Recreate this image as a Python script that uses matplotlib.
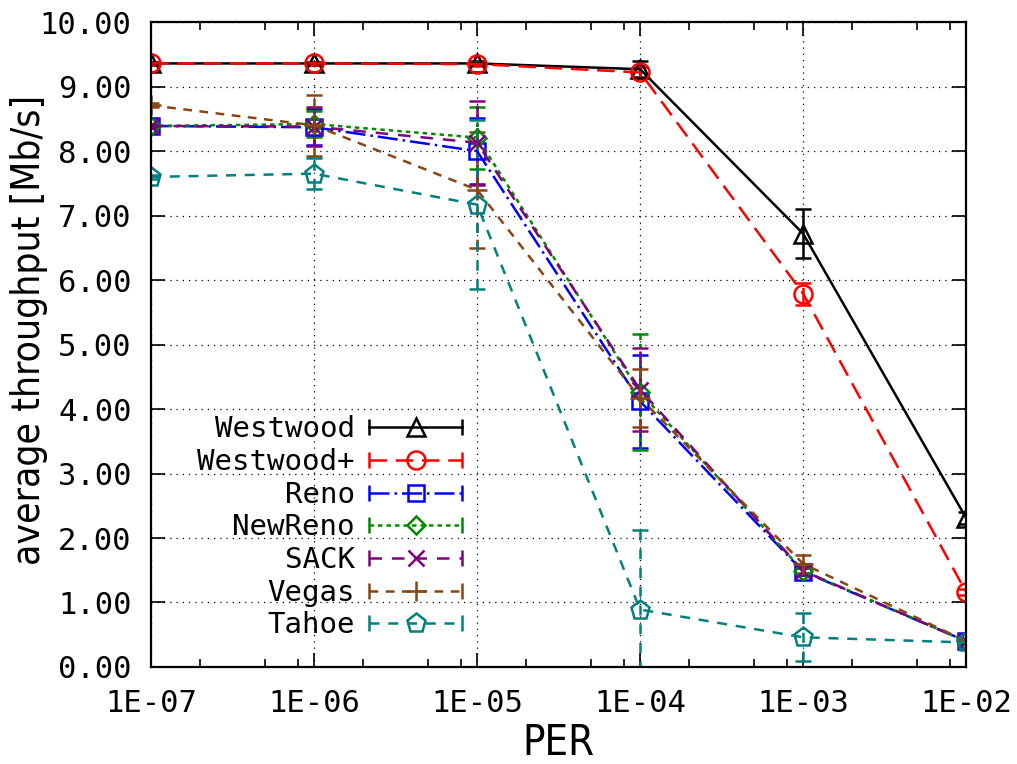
import numpy as np
import matplotlib
matplotlib.use('Agg')
import matplotlib.pyplot as plt
import matplotlib.font_manager as fm
from matplotlib.lines import Line2D
from matplotlib.legend_handler import HandlerLine2D, HandlerTuple

# PER values and tick labels
per = [1e-7, 1e-6, 1e-5, 1e-4, 1e-3, 1e-2]
per_labels = ['1E-07', '1E-06', '1E-05', '1E-04', '1E-03', '1E-02']

# average throughput [Mb/s] and error (half-width) per protocol
westwood = [9.36, 9.36, 9.36, 9.27, 6.72, 2.31]
westwood_err = [0.02, 0.02, 0.03, 0.12, 0.38, 0.10]
westwoodp = [9.36, 9.36, 9.35, 9.22, 5.79, 1.16]
westwoodp_err = [0.02, 0.02, 0.03, 0.08, 0.17, 0.05]
reno = [8.39, 8.37, 8.00, 4.12, 1.48, 0.40]
reno_err = [0.03, 0.28, 0.51, 0.72, 0.06, 0.03]
newreno = [8.39, 8.42, 8.21, 4.26, 1.49, 0.40]
newreno_err = [0.03, 0.20, 0.48, 0.90, 0.06, 0.03]
sack = [8.39, 8.38, 8.13, 4.30, 1.49, 0.40]
sack_err = [0.03, 0.30, 0.65, 0.64, 0.06, 0.03]
vegas = [8.71, 8.40, 7.40, 4.17, 1.60, 0.40]
vegas_err = [0.03, 0.47, 0.90, 0.45, 0.14, 0.03]
tahoe = [7.60, 7.65, 7.17, 0.89, 0.46, 0.38]
tahoe_err = [0.03, 0.24, 1.31, 1.24, 0.37, 0.03]

series = [
    ('Westwood', westwood, westwood_err, 'black', '-', '^', 13),
    ('Westwood+', westwoodp, westwoodp_err, '#ff0000', (0, (7, 3.5)), 'o', 13),
    ('Reno', reno, reno_err, '#0000ff', (0, (8, 2, 1, 2)), 's', 12),
    ('NewReno', newreno, newreno_err, '#008a00', (0, (1.8, 1.6)), 'D', 9),
    ('SACK', sack, sack_err, '#800080', (0, (5, 4)), 'x', 12),
    ('Vegas', vegas, vegas_err, '#8b4513', (0, (3.5, 3)), '+', 14),
    ('Tahoe', tahoe, tahoe_err, '#008080', (0, (4, 3.5)), 'p', 14),
]

mono = 'DejaVu Sans Mono'

# look for a narrow sans font for the axis titles
narrow_fp = None
wanted = ['LiberationSansNarrow-Regular', 'DejaVuSansCondensed.ttf',
          'RobotoCondensed-Regular', 'OpenSans_Condensed-Regular',
          'OpenSansCondensed-Light', 'NotoSans-Condensed']
files = [f.fname for f in fm.fontManager.ttflist]
for w in wanted:
    hits = [p for p in files if w in p]
    if hits:
        narrow_fp = fm.FontProperties(fname=hits[0])
        break
if narrow_fp is None:
    narrow_fp = fm.FontProperties(family='Liberation Sans')
    lab_size = 26
else:
    lab_size = 30

fig = plt.figure(figsize=(10.17, 7.64), dpi=100)
ax = fig.add_axes([0.1485, 0.127, 0.8015, 0.844])

handles = []
hmap = {tuple: HandlerTuple(ndivide=1, pad=0)}
for name, vals, err, col, ls, mk, ms in series:
    eb = ax.errorbar(per, vals, yerr=err, color=col, ls=ls, lw=1.8,
                     marker=mk, ms=ms, mfc='none', mec=col, mew=1.8,
                     capsize=5.5, capthick=1.8, elinewidth=1.8)
    for bc in eb[2]:
        bc.set_linestyle(ls)
    ln = Line2D([], [], color=col, ls=ls, lw=1.8, marker=mk, ms=ms,
                mfc='none', mec=col, mew=1.8)
    caps = Line2D([], [], color=col, ls='none', marker='|', ms=11, mew=1.8)
    hmap[caps] = HandlerLine2D(numpoints=2, marker_pad=0)
    handles.append((ln, caps))

ax.set_xscale('log')
ax.set_xlim(1e-7, 1e-2)
ax.set_ylim(0, 10)
ax.set_xticks(per)
ax.set_xticklabels(per_labels, fontfamily=mono, fontsize=22)
ax.set_xticks([m * 10.0 ** e for e in range(-7, -2) for m in (2, 5, 8)], minor=True)
ax.set_xticklabels([], minor=True)
ax.set_yticks(np.arange(0, 11, 1))
ax.set_yticklabels(['%.2f' % v for v in np.arange(0, 11, 1)], fontfamily=mono, fontsize=22)

ax.tick_params(which='both', direction='in', top=True, right=True, width=1.2)
ax.tick_params(which='major', length=10)
ax.tick_params(which='minor', length=6)
ax.tick_params(axis='x', pad=16)
ax.tick_params(axis='y', pad=14)
for s in ax.spines.values():
    s.set_linewidth(1.6)

ax.grid(True, which='major', color='black', ls=(0, (1, 4)), lw=0.9)

ax.set_xlabel('PER', fontproperties=narrow_fp, fontsize=lab_size, labelpad=3)
ax.set_ylabel('average throughput [Mb/s]', fontproperties=narrow_fp, fontsize=lab_size - 2)
ax.yaxis.set_label_coords(-0.127, 0.522)

leg = ax.legend(handles, [s[0] for s in series], handler_map=hmap,
                loc='lower right', bbox_to_anchor=(0.40, 0.02),
                frameon=False, markerfirst=False, handlelength=3.2,
                handletextpad=0.5, labelspacing=0.16, borderpad=0,
                prop={'family': mono, 'size': 21})

fig.savefig('out.png', dpi=100)
